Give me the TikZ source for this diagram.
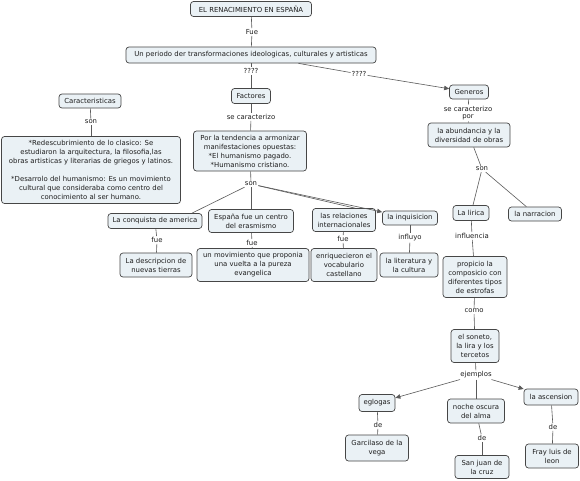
\documentclass[tikz,border=0pt]{standalone}
\usepackage{fontspec}
\setmainfont{DejaVu Sans}
\usetikzlibrary{arrows.meta}
\definecolor{boxfill}{RGB}{234,241,245}
\definecolor{boxline}{RGB}{70,70,70}
\definecolor{linkc}{RGB}{90,90,90}
\definecolor{txt}{RGB}{30,30,30}
\begin{document}
\begin{tikzpicture}[x=1pt,y=-1pt,
  box/.style={draw=boxline, fill=boxfill, rounded corners=3pt, line width=0.7pt,
    inner xsep=1.5pt, inner ysep=2pt, align=center, text=txt,
    font=\fontsize{6.9}{9}\selectfont},
  lab/.style={inner sep=1pt, text=txt, align=center, font=\fontsize{6.9}{7.6}\selectfont},
  link/.style={draw=linkc, line width=0.6pt},
  arr/.style={link, -{Triangle[length=5pt,width=4.5pt]}, color=linkc}]
\useasboundingbox (0,0) rectangle (580,480);
\fill[white] (0,0) rectangle (580,480);
% nodes
\node[box, minimum width=121pt, minimum height=15pt] (title) at (251,9) {EL RENACIMIENTO EN ESPAÑA};
\node[lab] (fue1) at (252,32) {Fue};
\node[box, minimum width=250pt, minimum height=16pt] (period) at (251,55) {Un periodo der transformaciones ideologicas, culturales y artisticas};
\node[lab] (q1) at (251,71) {????};
\node[lab] (q2) at (359,74) {????};
\node[box, minimum width=39pt, minimum height=15pt] (factores) at (251,96) {Factores};
\node[lab] (secar) at (251,117) {se caracterizo};
\node[box, minimum width=62pt, minimum height=14pt] (carac) at (90,101) {Caracteristicas};
\node[lab] (son1) at (91,122) {son};
\node[box, minimum width=179pt, minimum height=67pt] (big) at (91,170) {*Redescubrimiento de lo clasico: Se\\estudiaron la arquitectura, la filosofia,las\\obras artisticas y literarias de griegos y latinos.\\[8.8pt]*Desarrolo del humanismo: Es un movimiento\\cultural que consideraba como centro del\\conocimiento al ser humano.};
\node[box, minimum width=113pt, minimum height=40pt] (tend) at (250,151) {Por la tendencia a armonizar\\manifestaciones opuestas:\\*El humanismo pagado.\\*Humanismo cristiano.};
\node[lab] (son2) at (251,184) {son};
\node[box, minimum width=94pt, minimum height=15pt] (conq) at (155,221) {La conquista de america};
\node[box, minimum width=85pt, minimum height=23pt] (espana) at (251,221) {España fue un centro\\del erasmismo};
\node[box, minimum width=63pt, minimum height=23pt] (rel) at (344,220) {las relaciones\\internacionales};
\node[box, minimum width=55pt, minimum height=14pt] (inq) at (410,218) {la inquisicion};
\node[lab] (fue2) at (157,240) {fue};
\node[lab] (fue3) at (252,243) {fue};
\node[lab] (fue4) at (343,239) {fue};
\node[lab] (influyo) at (410,238) {influyo};
\node[box, minimum width=72pt, minimum height=24pt] (desc) at (156,265) {La descripcion de\\nuevas tierras};
\node[box, minimum width=112pt, minimum height=33pt] (mov) at (253,265) {un movimiento que proponia\\una vuelta a la pureza\\evangelica};
\node[box, minimum width=66pt, minimum height=33pt] (enr) at (344,265) {enriquecieron el\\vocabulario\\castellano};
\node[box, minimum width=58pt, minimum height=24pt] (lit) at (409,265) {la literatura y\\la cultura};
\node[box, minimum width=39pt, minimum height=14pt] (generos) at (469,92) {Generos};
\node[lab] (secarpor) at (468,113) {se caracterizo\\por};
\node[box, minimum width=82pt, minimum height=24pt] (abund) at (469,135) {la abundancia y la\\diversidad de obras};
\node[lab] (son3) at (482,169) {son};
\node[box, minimum width=36pt, minimum height=15pt] (lirica) at (471,213) {La lirica};
\node[box, minimum width=53pt, minimum height=14pt] (narr) at (535,214) {la narracion};
\node[lab] (influencia) at (472,236) {influencia};
\node[box, minimum width=64pt, minimum height=41pt] (prop) at (475,277) {propicio la\\composicio con\\diferentes tipos\\de estrofas};
\node[lab] (como) at (474,311) {como};
\node[box, minimum width=48pt, minimum height=33pt] (soneto) at (475,346) {el soneto,\\la lira y los\\tercetos};
\node[lab] (ejemplos) at (476,375) {ejemplos};
\node[box, minimum width=36pt, minimum height=17pt] (eglogas) at (377,403) {eglogas};
\node[box, minimum width=57pt, minimum height=24pt] (noche) at (476,411) {noche oscura\\del alma};
\node[box, minimum width=54pt, minimum height=16pt] (asc) at (551,397) {la ascension};
\node[lab] (de1) at (378,425) {de};
\node[lab] (de2) at (482,438) {de};
\node[lab] (de3) at (553,427) {de};
\node[box, minimum width=63pt, minimum height=26pt] (garci) at (377,448) {Garcilaso de la\\vega};
\node[box, minimum width=54pt, minimum height=23pt] (sanjuan) at (482,467) {San juan de\\la cruz};
\node[box, minimum width=53pt, minimum height=24pt] (fray) at (552,456) {Fray luis de\\leon};
% links
\draw[link] (title) -- (fue1); \draw[link] (fue1) -- (period);
\draw[link] (period) -- (q1); \draw[link] (q1) -- (factores);
\draw[link] (period) -- (q2); \draw[arr] (q2) -- (generos);
\draw[link] (factores) -- (secar); \draw[link] (secar) -- (tend);
\draw[link] (carac) -- (son1); \draw[link] (son1) -- (big);
\draw[link] (tend) -- (son2);
\draw[link] (son2) -- (conq.12);
\draw[link] (son2) -- (espana);
\draw[link] (son2) -- (rel.47);
\draw[arr] (son2) -- (inq);
\draw[link] (conq) -- (fue2); \draw[link] (fue2) -- (desc);
\draw[link] (espana) -- (fue3); \draw[link] (fue3) -- (mov);
\draw[link] (rel) -- (fue4); \draw[link] (fue4) -- (enr);
\draw[link] (inq) -- (influyo); \draw[link] (influyo) -- (lit);
\draw[link] (generos) -- (secarpor); \draw[link] (secarpor) -- (abund);
\draw[link] (abund) -- (son3);
\draw[link] (son3) -- (lirica); \draw[link] (son3) -- (narr);
\draw[link] (lirica) -- (influencia); \draw[link] (influencia) -- (prop);
\draw[link] (prop) -- (como); \draw[link] (como) -- (soneto);
\draw[link] (soneto) -- (ejemplos);
\draw[arr] (ejemplos) -- (eglogas);
\draw[link] (ejemplos) -- (noche);
\draw[arr] (ejemplos) -- (asc);
\draw[link] (eglogas) -- (de1); \draw[link] (de1) -- (garci);
\draw[link] (noche) -- (de2); \draw[link] (de2) -- (sanjuan);
\draw[link] (asc) -- (de3); \draw[link] (de3) -- (fray);
\end{tikzpicture}
\end{document}
